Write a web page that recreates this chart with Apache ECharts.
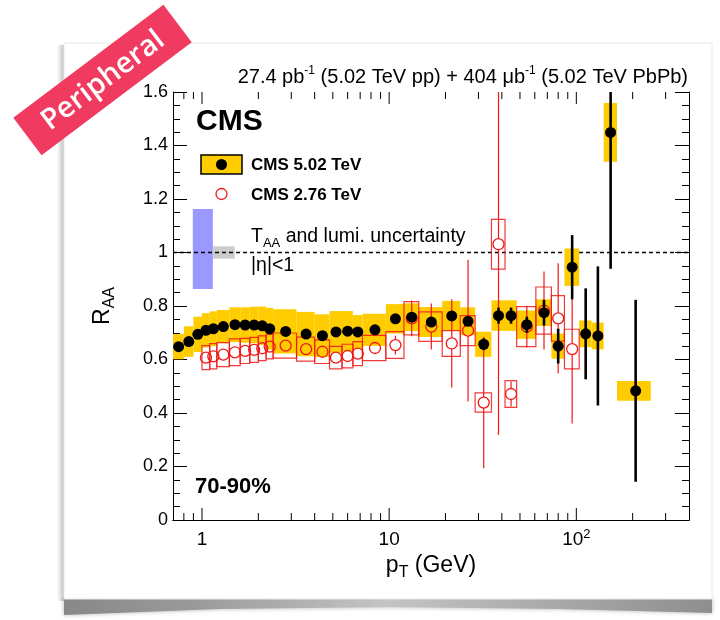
<!DOCTYPE html>
<html><head><meta charset="utf-8">
<script src="https://cdn.jsdelivr.net/npm/echarts@6/dist/echarts.min.js"></script>
<style>html,body{margin:0;padding:0;background:#fff;}#chart{width:720px;height:620px;}</style>
</head><body><div id="chart"></div>
<script>
const FONT = "'Liberation Sans', Arial, Helvetica, sans-serif";

// ---- CMS 5.02 TeV (black points, yellow syst boxes) ----
const ptLow502  = [0.7,0.8,0.9,1.0,1.1,1.2,1.4,1.6,1.8,2.0, 2.2,2.4,3.2,4.0,4.8,5.6,6.4,7.2,9.6,12, 14.4,19.2,24,28.8,35.2,41.6,48,60.8,73.6,86.4, 103.6,120.8,140,165];
const ptHigh502 = [0.8,0.9,1.0,1.1,1.2,1.4,1.6,1.8,2.0,2.2, 2.4,3.2,4.0,4.8,5.6,6.4,7.2,9.6,12,14.4, 19.2,24,28.8,35.2,41.6,48,60.8,73.6,86.4,103.6, 120.8,140,165,250];
const pt502     = [0.75,0.85,0.95,1.05,1.15,1.3,1.5,1.7,1.9,2.1, 2.3,2.8,3.6,4.4,5.2,6.0,6.8,8.4,10.8,13.2, 16.8,21.6,26.4,32,38.4,44.8,54.4,67.2,80,95, 112.2,130.4,152.5,207.5];
const raa502    = [0.648,0.667,0.694,0.709,0.715,0.723,0.730,0.729,0.729,0.726, 0.715,0.705,0.695,0.689,0.703,0.706,0.703,0.711,0.752,0.758, 0.740,0.763,0.743,0.657,0.764,0.764,0.730,0.775,0.650,0.945, 0.696,0.688,1.449,0.483];
const stat502   = [0.004,0.004,0.004,0.004,0.004,0.004,0.004,0.004,0.004,0.004, 0.004,0.004,0.004,0.005,0.005,0.006,0.006,0.006,0.008,0.010, 0.012,0.015,0.016,0.022,0.030,0.030,0.030,0.048,0.065,0.120, 0.170,0.260,0.510,0.340];
const syst502   = [0.047,0.057,0.066,0.064,0.065,0.062,0.065,0.066,0.068,0.072, 0.078,0.083,0.083,0.080,0.078,0.075,0.063,0.060,0.055,0.052, 0.056,0.056,0.052,0.047,0.057,0.057,0.053,0.050,0.047,0.070, 0.050,0.050,0.110,0.037];

// ---- CMS 2.76 TeV (red open points, red syst boxes) ----
const ptLow276  = [1.0,1.1,1.2,1.4,1.6,1.8,2.0,2.2,2.4,3.2, 4.0,4.8,5.6,6.4,7.2,9.6,12,14.4,19.2,24, 28.8,35.2,41.6,48,60.8,73.6,86.4];
const ptHigh276 = [1.1,1.2,1.4,1.6,1.8,2.0,2.2,2.4,3.2,4.0, 4.8,5.6,6.4,7.2,9.6,12,14.4,19.2,24,28.8, 35.2,41.6,48,60.8,73.6,86.4,103.6];
const pt276     = [1.05,1.15,1.3,1.5,1.7,1.9,2.1,2.3,2.8,3.6, 4.4,5.2,6.0,6.8,8.4,10.8,13.2,16.8,21.6,26.4, 32,38.4,44.8,54.4,67.2,80,95];
const raa276    = [0.607,0.612,0.618,0.627,0.632,0.636,0.642,0.648,0.652,0.639, 0.629,0.607,0.613,0.622,0.643,0.654,0.754,0.723,0.660,0.708, 0.439,1.031,0.471,0.723,0.783,0.754,0.639];
const stat276   = [0.006,0.006,0.006,0.006,0.006,0.006,0.006,0.007,0.007,0.008, 0.009,0.010,0.012,0.014,0.016,0.035,0.067,0.086,0.165,0.265, 0.246,0.713,0.047,0.078,0.146,0.206,0.278];
const syst276   = [0.045,0.047,0.045,0.050,0.047,0.047,0.046,0.046,0.047,0.045, 0.044,0.042,0.044,0.045,0.047,0.050,0.062,0.055,0.048,0.056, 0.036,0.093,0.050,0.075,0.088,0.085,0.074];

// ---- normalisation uncertainty boxes [ptLow, ptHigh, low, high] ----
const taaBox  = [0.893, 1.143, 0.864, 1.163];
const lumiBox = [1.143, 1.495, 0.977, 1.023];

// ---- axes ----
const xMin = 0.7, xMax = 400;
const yMin = 0, yMax = 1.6, yStep = 0.2;
const xMajorTicks = [1, 10, 100];
const xMinorTicks = [0.8,0.9,2,3,4,5,6,7,8,9,20,30,40,50,60,70,80,90,200,300];
const unityLine = [[xMin, 1], [xMax, 1]];

const YELLOW = '#ffcc00', RED = '#f01818';
const MR = 5.5; // marker radius (px)

const chart = echarts.init(document.getElementById('chart'), null, {renderer: 'canvas'});

function boxSeries(lo, hi, val, err, style, z) {
  return {
    type: 'custom', z: z, silent: true,
    xAxisIndex: 0, yAxisIndex: 0,
    encode: {x: [0, 1], y: 2},
    data: lo.map((l, i) => [l, hi[i], val[i], err[i]]),
    renderItem: (params, api) => {
      const p1 = api.coord([api.value(0), Math.min(api.value(2) + api.value(3), yMax)]);
      const p2 = api.coord([api.value(1), Math.max(api.value(2) - api.value(3), yMin)]);
      return {type: 'rect', shape: {x: p1[0], y: p1[1], width: p2[0] - p1[0], height: p2[1] - p1[1]}, style: style};
    }
  };
}
function errSeries(pt, val, err, stroke, width, gap, z) {
  return {
    type: 'custom', z: z, silent: true,
    xAxisIndex: 0, yAxisIndex: 0,
    encode: {x: 0, y: 1},
    data: pt.map((p, i) => [p, val[i], err[i]]),
    renderItem: (params, api) => {
      const x = api.value(0), y = api.value(1), e = api.value(2);
      const c = api.coord([x, y]);
      const t = api.coord([x, Math.min(y + e, yMax)]);
      const b = api.coord([x, Math.max(y - e, yMin)]);
      const st = {stroke: stroke, lineWidth: width};
      const ch = [];
      if (c[1] - gap > t[1]) ch.push({type: 'line', shape: {x1: c[0], y1: t[1], x2: c[0], y2: c[1] - gap}, style: st});
      if (b[1] > c[1] + gap) ch.push({type: 'line', shape: {x1: c[0], y1: c[1] + gap, x2: c[0], y2: b[1]}, style: st});
      return {type: 'group', children: ch};
    }
  };
}
function tickSeries(values, len) {
  return {
    type: 'custom', z: 20, silent: true,
    xAxisIndex: 0, yAxisIndex: 0,
    encode: {x: 0, y: 1},
    data: values.map(v => [v, yMin]),
    renderItem: (params, api) => {
      const b = api.coord([api.value(0), yMin]);
      const t = api.coord([api.value(0), yMax]);
      const st = {stroke: '#000', lineWidth: 1};
      return {type: 'group', children: [
        {type: 'line', shape: {x1: b[0], y1: b[1], x2: b[0], y2: b[1] - len}, style: st},
        {type: 'line', shape: {x1: t[0], y1: t[1], x2: t[0], y2: t[1] + len}, style: st}
      ]};
    }
  };
}

const subRich = {
  b: {fontFamily: FONT, fontSize: 23, color: '#000', lineHeight: 24, padding: [0, 0, 6, 0]},
  s: {fontFamily: FONT, fontSize: 16, color: '#000', lineHeight: 24, padding: [7, 0, 0, 0]}
};

const option = {
  animation: false,
  backgroundColor: '#fff',
  grid: {left: 173, top: 92, width: 516, height: 428, containLabel: false},
  xAxis: [{
    type: 'log', min: xMin, max: xMax, logBase: 10, position: 'bottom',
    axisLine: {show: true, lineStyle: {color: '#000', width: 1}},
    axisTick: {show: false}, splitLine: {show: false},
    axisLabel: {
      show: true, margin: 7, showMinLabel: false, showMaxLabel: false,
      formatter: v => Math.abs(v - 1) < 1e-6 ? '{b|1}' : Math.abs(v - 10) < 1e-5 ? '{b|10}' : Math.abs(v - 100) < 1e-4 ? '{b|10}{p|2}' : '',
      rich: {
        b: {fontFamily: FONT, fontSize: 19, color: '#000', lineHeight: 20, padding: [6, 0, 0, 0]},
        p: {fontFamily: FONT, fontSize: 13, color: '#000', lineHeight: 20, padding: [0, 0, 6, 0]}
      }
    },
    name: '{b|p}{s|T}{b| (GeV)}', nameLocation: 'middle', nameGap: 24,
    nameTextStyle: {rich: subRich}
  }, {
    type: 'log', min: xMin, max: xMax, logBase: 10, position: 'top',
    axisLine: {show: true, lineStyle: {color: '#000', width: 1}},
    axisTick: {show: false}, axisLabel: {show: false}, splitLine: {show: false}
  }],
  yAxis: [{
    type: 'value', min: yMin, max: yMax, interval: yStep, position: 'left',
    axisLine: {show: true, lineStyle: {color: '#000', width: 1}},
    axisTick: {show: true, inside: true, length: 14, lineStyle: {color: '#000'}},
    minorTick: {show: true, splitNumber: 4, length: 7, lineStyle: {color: '#000'}},
    splitLine: {show: false},
    axisLabel: {fontFamily: FONT, fontSize: 18, color: '#000', margin: 5},
    name: '{b|R}{s|AA}', nameLocation: 'middle', nameRotate: 90, nameGap: 55,
    nameTextStyle: {rich: subRich}
  }, {
    type: 'value', min: yMin, max: yMax, interval: yStep, position: 'right',
    axisLine: {show: true, lineStyle: {color: '#000', width: 1}},
    axisTick: {show: true, inside: true, length: 14, lineStyle: {color: '#000'}},
    minorTick: {show: true, splitNumber: 4, length: 7, lineStyle: {color: '#000'}},
    splitLine: {show: false}, axisLabel: {show: false}
  }],
  graphic: [
    // card background & shadows
    {type: 'rect', z: -10, shape: {x: 57, y: 45, width: 8, height: 556},
     style: {fill: new echarts.graphic.LinearGradient(0, 0, 1, 0, [{offset: 0, color: 'rgba(0,0,0,0)'}, {offset: 1, color: 'rgba(0,0,0,0.28)'}])}},
    {type: 'polygon', z: -10, shape: {points: [[64, 598], [712, 598], [712, 613], [560, 609], [390, 607], [220, 609], [64, 615]]},
     style: {fill: new echarts.graphic.LinearGradient(0, 0, 1, 0, [
       {offset: 0, color: '#888'}, {offset: 0.2, color: '#9a9a9a'}, {offset: 0.5, color: '#c4c4c4'}, {offset: 0.8, color: '#a4a4a4'}, {offset: 1, color: '#8e8e8e'}]),
       shadowBlur: 4, shadowColor: 'rgba(0,0,0,0.3)'}},
    {type: 'rect', z: -9, shape: {x: 64, y: 43, width: 648, height: 556},
     style: {fill: '#fff', stroke: '#e9e9e9', lineWidth: 1}},
    // lumi text
    {type: 'text', z: 10, x: 688, y: 74,
     style: {text: '{n|27.4 pb}{s|-1}{n| (5.02 TeV pp) + 404 μb}{s|-1}{n| (5.02 TeV PbPb)}',
       textAlign: 'right', textVerticalAlign: 'middle',
       rich: {n: {fontFamily: FONT, fontSize: 20, fill: '#000', lineHeight: 20, padding: [6, 0, 0, 0]},
              s: {fontFamily: FONT, fontSize: 12, fill: '#000', lineHeight: 20, padding: [0, 0, 6, 0]}}}},
    // CMS label
    {type: 'text', z: 10, x: 196, y: 122,
     style: {text: 'CMS', font: 'bold 30px ' + FONT, fill: '#000', textVerticalAlign: 'middle'}},
    // legend
    {type: 'rect', z: 10, shape: {x: 201, y: 155, width: 41, height: 19}, style: {fill: YELLOW, stroke: '#000', lineWidth: 1.5}},
    {type: 'circle', z: 11, shape: {cx: 221.5, cy: 164.5, r: MR}, style: {fill: '#000'}},
    {type: 'text', z: 10, x: 251, y: 165, style: {text: 'CMS 5.02 TeV', font: 'bold 17px ' + FONT, fill: '#000', textVerticalAlign: 'middle'}},
    {type: 'circle', z: 11, shape: {cx: 221.5, cy: 194, r: MR}, style: {fill: 'none', stroke: RED, lineWidth: 1.3}},
    {type: 'text', z: 10, x: 251, y: 195, style: {text: 'CMS 2.76 TeV', font: 'bold 17px ' + FONT, fill: '#000', textVerticalAlign: 'middle'}},
    {type: 'text', z: 10, x: 251, y: 240,
     style: {text: '{n|T}{s|AA}{n| and lumi. uncertainty}', textVerticalAlign: 'middle',
       rich: {n: {fontFamily: FONT, fontSize: 19.5, fill: '#000', lineHeight: 20, padding: [0, 0, 6, 0]},
              s: {fontFamily: FONT, fontSize: 13, fill: '#000', lineHeight: 20, padding: [6, 0, 0, 0]}}}},
    {type: 'text', z: 10, x: 251, y: 266, style: {text: '|η|<1', font: '19.5px ' + FONT, fill: '#000', textVerticalAlign: 'middle'}},
    {type: 'text', z: 10, x: 195, y: 487, style: {text: '70-90%', font: 'bold 22px ' + FONT, fill: '#000', textVerticalAlign: 'middle'}},
    // Peripheral banner
    {type: 'group', z: 30, x: 102.5, y: 80, rotation: 37 * Math.PI / 180, children: [
      {type: 'rect', z: 30, shape: {x: -94, y: -23.5, width: 188, height: 47}, style: {fill: '#f03a5f'}},
      {type: 'text', z: 31, x: 0, y: 1, style: {text: 'Peripheral', font: '600 29px "Open Sans", ' + FONT, fill: '#fff', textAlign: 'center', textVerticalAlign: 'middle'}}
    ]}
  ],
  series: [
    // normalisation uncertainty boxes
    {type: 'custom', z: 1, silent: true, xAxisIndex: 0, yAxisIndex: 0, encode: {x: [0, 1], y: [2, 3]},
     data: [taaBox, lumiBox],
     renderItem: (params, api) => {
       const p1 = api.coord([api.value(0), api.value(3)]);
       const p2 = api.coord([api.value(1), api.value(2)]);
       return {type: 'rect', shape: {x: p1[0], y: p1[1], width: p2[0] - p1[0], height: p2[1] - p1[1]},
               style: {fill: params.dataIndex === 0 ? '#9999ff' : '#cccccc'}};
     }},
    // unity line
    {type: 'line', z: 2, data: unityLine, symbol: 'none', silent: true,
     lineStyle: {color: '#000', width: 1.5, type: [4, 3]}},
    boxSeries(ptLow502, ptHigh502, raa502, syst502, {fill: YELLOW}, 3),
    boxSeries(ptLow276, ptHigh276, raa276, syst276, {fill: 'none', stroke: RED, lineWidth: 1.2, opacity: 0.85}, 4),
    errSeries(pt276, raa276, stat276, RED, 1.2, MR, 5),
    {type: 'scatter', z: 6, silent: true, data: pt276.map((p, i) => [p, raa276[i]]),
     symbol: 'circle', symbolSize: 2 * MR, itemStyle: {color: 'rgba(0,0,0,0)', borderColor: RED, borderWidth: 1.3, opacity: 1}},
    errSeries(pt502, raa502, stat502, '#000', 2.6, 0, 7),
    {type: 'scatter', z: 8, silent: true, data: pt502.map((p, i) => [p, raa502[i]]),
     symbol: 'circle', symbolSize: 2 * MR, itemStyle: {color: '#000', opacity: 1}},
    tickSeries(xMajorTicks, 12),
    tickSeries(xMinorTicks, 7)
  ]
};
chart.setOption(option);
</script></body></html>
